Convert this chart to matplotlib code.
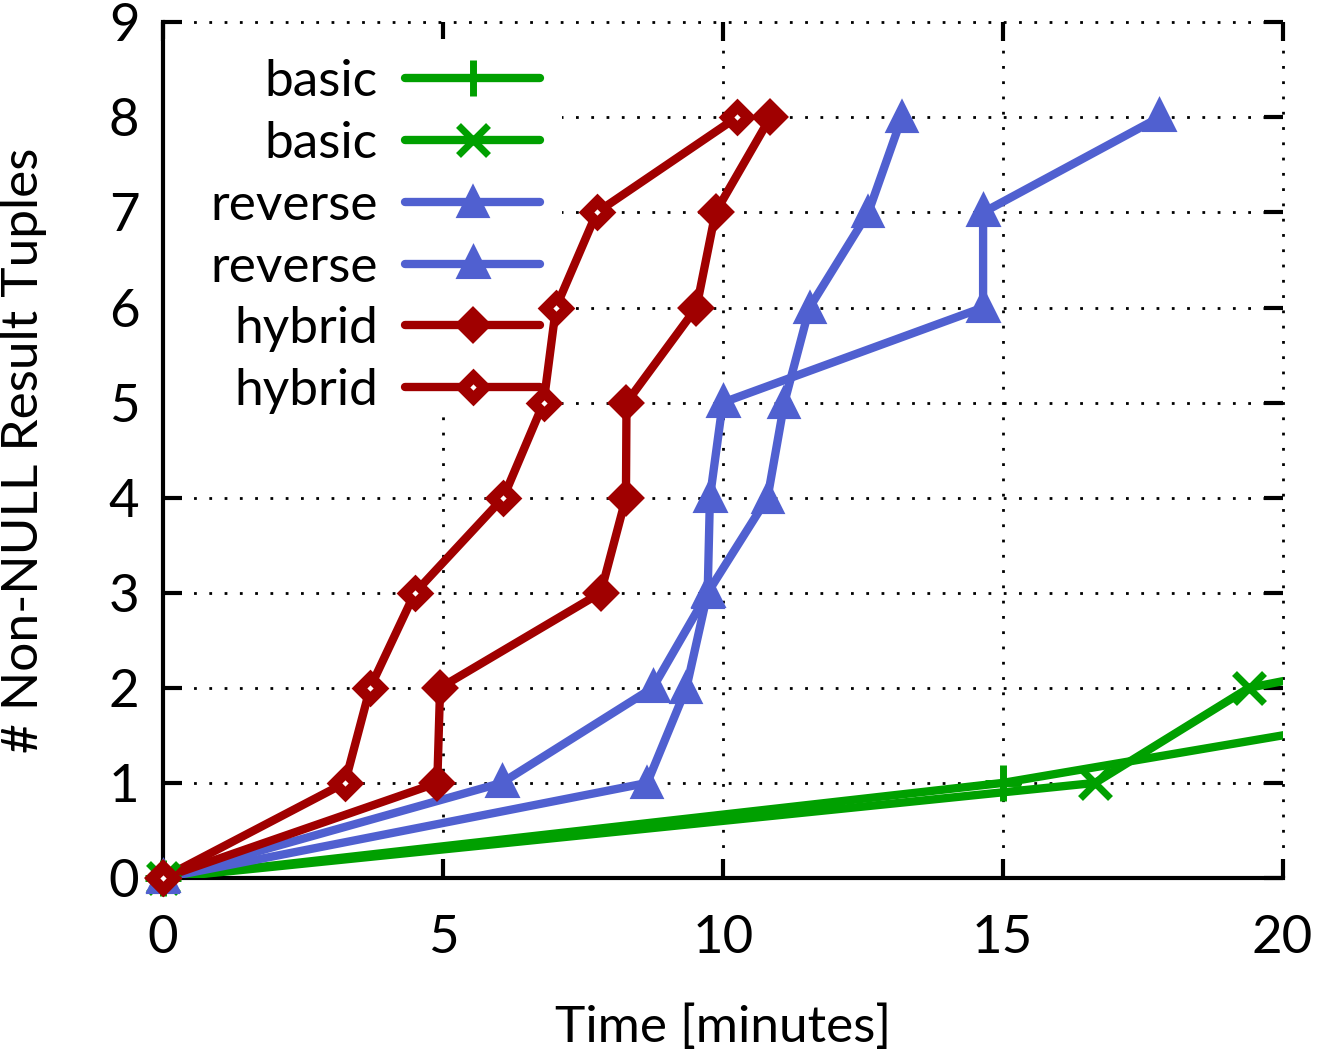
import matplotlib
matplotlib.use("Agg")
import matplotlib.pyplot as plt
from matplotlib.patches import Rectangle
import numpy as np

plt.rcParams['font.family'] = ['Lato', 'DejaVu Sans']

# Data
basic1_x = [0, 15.0, 25.0]
basic1_y = [0, 1, 2]
basic2_x = [0, 16.65, 19.4, 28.0]
basic2_y = [0, 1, 2, 3]
rev1_x = [0, 8.65, 9.35, 9.73, 10.8, 11.1, 11.55, 12.6, 13.2]
rev1_y = [0, 1, 2, 3, 4, 5, 6, 7, 8]
rev2_x = [0, 6.05, 8.75, 9.73, 9.77, 10.0, 14.65, 14.65, 17.8]
rev2_y = [0, 1, 2, 3, 4, 5, 6, 7, 8]
hyb1_x = [0, 4.9, 4.95, 7.82, 8.27, 8.28, 9.53, 9.87, 10.85]
hyb1_y = [0, 1, 2, 3, 4, 5, 6, 7, 8]
hyb2_x = [0, 3.25, 3.7, 4.5, 6.08, 6.8, 7.02, 7.75, 10.25]
hyb2_y = [0, 1, 2, 3, 4, 5, 6, 7, 8]

labels = ['basic', 'basic', 'reverse', 'reverse', 'hybrid', 'hybrid']
x_ticks = [0, 5, 10, 15, 20]
y_ticks = [0, 1, 2, 3, 4, 5, 6, 7, 8, 9]

GREEN = '#00a000'
BLUE = '#5060d0'
RED = '#a00000'

fig = plt.figure(figsize=(13.25, 10.6), dpi=100)
ax = fig.add_axes([0.123, 0.1717, 0.845, 0.8073])

LW = 6
# (x, y, color, marker, facecolor, markersize, edgewidth)
series = [
    (basic1_x, basic1_y, GREEN, '+', GREEN, 26, 5),
    (basic2_x, basic2_y, GREEN, 'x', GREEN, 21, 5),
    (rev1_x, rev1_y, BLUE, '^', BLUE, 20, 3),
    (rev2_x, rev2_y, BLUE, '^', 'white', 13, 8),
    (hyb1_x, hyb1_y, RED, 'D', RED, 16, 3),
    (hyb2_x, hyb2_y, RED, 'D', 'white', 11, 8),
]

for xs, ys, col, mk, fc, ms, mew in series:
    ax.plot(xs, ys, color=col, lw=LW, solid_capstyle='round', solid_joinstyle='round', zorder=3)
    xa = np.array(xs); ya = np.array(ys)
    m = xa <= 20
    ax.plot(xa[m], ya[m], linestyle='none', marker=mk, ms=ms, mfc=fc, mec=col,
            mew=mew, clip_on=False, zorder=4)

ax.set_xlim(0, 20)
ax.set_ylim(0, 9)
ax.set_xticks(x_ticks)
ax.set_yticks(y_ticks)
ax.set_xticklabels([str(v) for v in x_ticks])
ax.set_yticklabels([str(v) for v in y_ticks])

ax.grid(True, color='black', linestyle=(0, (1, 4.5)), linewidth=2.0)
ax.set_axisbelow(True)
for gl in ax.get_xgridlines() + ax.get_ygridlines():
    gl.set_clip_on(False)

ax.spines['top'].set_visible(False)
ax.spines['right'].set_visible(False)
for s in ('left', 'bottom'):
    ax.spines[s].set_linewidth(3)
ax.tick_params(direction='in', length=14, width=3, top=True, right=True,
               labelsize=38, color='black')
ax.tick_params(axis='x', pad=27)
ax.tick_params(axis='y', pad=17)

ax.set_xlabel('Time [minutes]', fontsize=37)
ax.set_ylabel('# Non-NULL Result Tuples', fontsize=37)
ax.xaxis.set_label_coords(0.5, -0.148)
ax.yaxis.set_label_coords(-0.104, 0.5)

# Key (gnuplot style: text right-aligned, sample to the right)
ax.add_patch(Rectangle((0.0, 0.541), 0.356, 0.44, transform=ax.transAxes,
                       facecolor='white', edgecolor='none', zorder=1.5, clip_on=False))
row0 = 0.9346
step = 0.0722
for i, ((xs, ys, col, mk, fc, ms, mew), lab) in enumerate(zip(series, labels)):
    yy = row0 - i * step
    ax.plot([0.216, 0.337], [yy, yy], transform=ax.transAxes, color=col, lw=LW,
            solid_capstyle='round', clip_on=False, zorder=3)
    ax.plot([0.2765], [yy], transform=ax.transAxes, marker=mk, ms=ms, mfc=fc, mec=col,
            mew=mew, linestyle='none', clip_on=False, zorder=4)
    ax.text(0.192, yy - 0.021, lab, transform=ax.transAxes, ha='right', va='baseline',
            fontsize=37, zorder=4)

fig.savefig('out.png', dpi=100)
